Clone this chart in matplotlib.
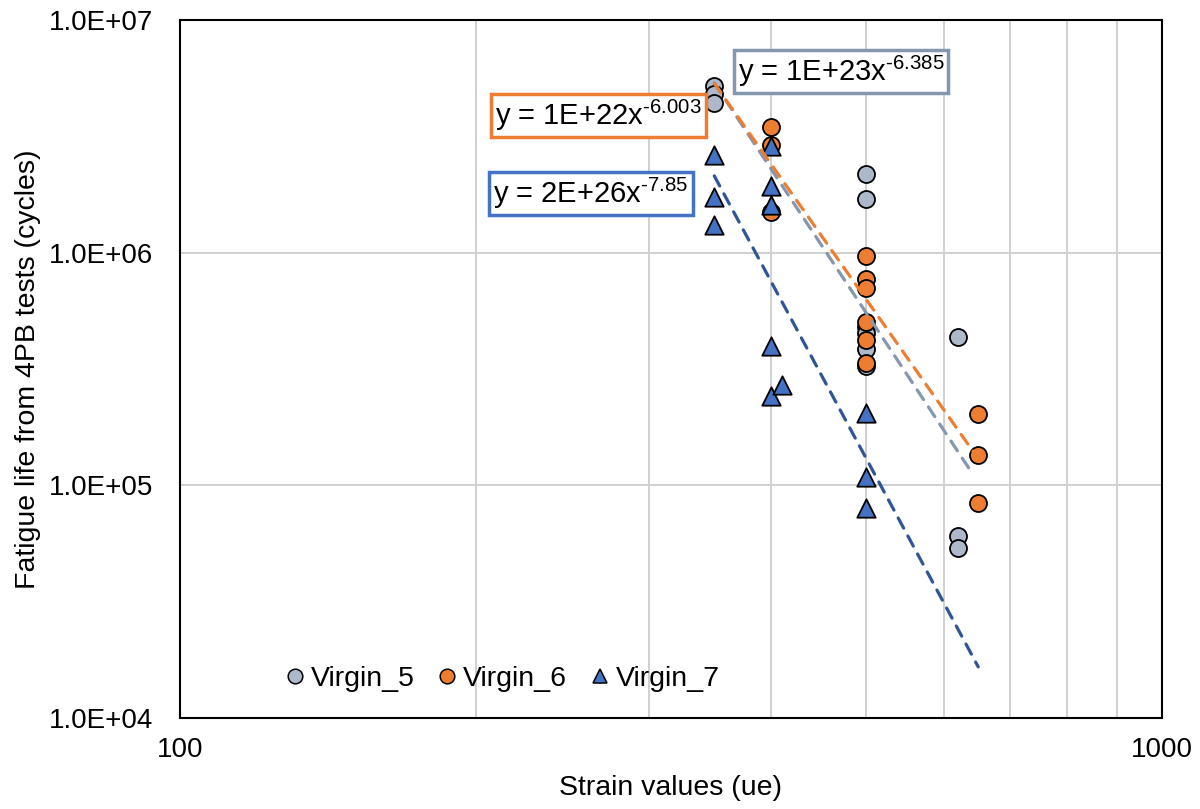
import numpy as np
import matplotlib
matplotlib.use("Agg")
import matplotlib.pyplot as plt
from matplotlib.lines import Line2D

plt.rcParams['font.family'] = ['Liberation Sans', 'DejaVu Sans']
plt.rcParams['mathtext.fontset'] = 'custom'
plt.rcParams['mathtext.rm'] = 'Liberation Sans'
plt.rcParams['mathtext.it'] = 'Liberation Sans'
plt.rcParams['mathtext.default'] = 'rm'

# ---- data (strain in ue, fatigue life in cycles) ----
v5_x = [350, 350, 350, 500, 500, 500, 500, 500, 500, 620, 620, 620]
v5_y = [5.2e6, 4.8e6, 4.4e6, 2.18e6, 1.70e6, 4.8e5, 4.5e5, 3.85e5, 3.25e5, 4.35e5, 6.05e4, 5.4e4]

v6_x = [400, 400, 400, 500, 500, 500, 500, 500, 500, 650, 650, 650]
v6_y = [3.47e6, 2.9e6, 1.5e6, 9.7e5, 7.7e5, 7.05e5, 5.05e5, 4.2e5, 3.36e5, 2.03e5, 1.35e5, 8.4e4]

v7_x = [350, 350, 350, 400, 400, 400, 400, 400, 410, 500, 500, 500]
v7_y = [2.63e6, 1.74e6, 1.32e6, 2.87e6, 1.94e6, 1.60e6, 3.97e5, 2.42e5, 2.70e5, 2.05e5, 1.09e5, 8.0e4]

# power-law trendlines y = a * x^b
trend_a = {'Virgin_5': 9.4e22, 'Virgin_6': 1.0e22, 'Virgin_7': 2.0e26}
trend_b = {'Virgin_5': -6.385, 'Virgin_6': -6.003, 'Virgin_7': -7.85}
trend_range = {'Virgin_5': (350, 640), 'Virgin_6': (350, 650), 'Virgin_7': (350, 650)}
eq_labels = {'Virgin_5': 'y = 1E+23x$^{\u2010 6.385}$',
             'Virgin_6': 'y = 1E+22x$^{\u2010 6.003}$',
             'Virgin_7': 'y = 2E+26x$^{\u2010 7.85}$'}

x_ticks = [100, 1000]
y_ticks = [1e4, 1e5, 1e6, 1e7]
y_tick_labels = ['1.0E+04', '1.0E+05', '1.0E+06', '1.0E+07']

# ---- styling ----
c5_fill, c5_line = '#ADB9CA', '#8497B0'
c6_fill, c6_line = '#ED7D31', '#ED7D31'
c7_fill, c7_line = '#4472C4', '#2F5597'
FS = 20.5

fig = plt.figure(figsize=(12, 8.09), dpi=100)
ax = fig.add_axes([0.15, 0.1125, 0.8183, 0.8628])
ax.set_xscale('log')
ax.set_yscale('log')
ax.set_xlim(100, 1000)
ax.set_ylim(1e4, 1e7)

ax.grid(True, which='major', axis='both', color='#D0D0D0', lw=1.4)
ax.grid(True, which='minor', axis='x', color='#D0D0D0', lw=1.4)
ax.set_axisbelow(True)

ax.scatter(v5_x, v5_y, s=150, marker='o', facecolor=c5_fill, edgecolor='black', lw=1.3, zorder=3)
ax.scatter(v6_x, v6_y, s=150, marker='o', facecolor=c6_fill, edgecolor='black', lw=1.3, zorder=3)
ax.scatter(v7_x, v7_y, s=175, marker='^', facecolor=c7_fill, edgecolor='black', lw=1.3, zorder=3)

for name, col in [('Virgin_5', c5_line), ('Virgin_6', c6_line), ('Virgin_7', c7_line)]:
    x0, x1 = trend_range[name]
    xx = np.geomspace(x0, x1, 50)
    yy = trend_a[name] * xx ** trend_b[name]
    ax.plot(xx, yy, color=col, lw=2.3, ls=(0, (3.6, 2.8)), dash_capstyle='round', zorder=4)

# equation boxes
box_kw = dict(fontsize=21, va='center', ha='left', zorder=6)
ax.text(0.568, 0.926, eq_labels['Virgin_5'], transform=ax.transAxes,
        bbox=dict(boxstyle='square,pad=0.14', facecolor='white', edgecolor=c5_line, lw=2.5), **box_kw)
ax.text(0.321, 0.863, eq_labels['Virgin_6'], transform=ax.transAxes,
        bbox=dict(boxstyle='square,pad=0.14', facecolor='white', edgecolor=c6_line, lw=2.5), **box_kw)
ax.text(0.319, 0.751, eq_labels['Virgin_7'], transform=ax.transAxes,
        bbox=dict(boxstyle='square,pad=0.14', facecolor='white', edgecolor=c7_fill, lw=2.5), **box_kw)

ax.set_xticks(x_ticks)
ax.set_xticklabels([str(v) for v in x_ticks])
ax.set_yticks(y_ticks)
ax.set_yticklabels(y_tick_labels)
ax.xaxis.set_minor_formatter(matplotlib.ticker.NullFormatter())
ax.yaxis.set_minor_locator(matplotlib.ticker.NullLocator())
ax.tick_params(axis='both', which='both', length=0, labelsize=FS - 0.5)
ax.tick_params(axis='y', pad=19)
ax.tick_params(axis='x', pad=14)

for sp in ax.spines.values():
    sp.set_color('black')
    sp.set_linewidth(1.5)

ax.set_xlabel('Strain values (ue)', fontsize=FS, labelpad=8)
ax.set_ylabel('Fatigue life from 4PB tests (cycles)', fontsize=FS, labelpad=6)

handles = [
    Line2D([], [], ls='', marker='o', markersize=10.5, markerfacecolor=c5_fill, markeredgecolor='black', markeredgewidth=1.1),
    Line2D([], [], ls='', marker='o', markersize=10.5, markerfacecolor=c6_fill, markeredgecolor='black', markeredgewidth=1.1),
    Line2D([], [], ls='', marker='^', markersize=10.5, markerfacecolor=c7_fill, markeredgecolor='black', markeredgewidth=1.1),
]
ax.legend(handles, ['Virgin_5', 'Virgin_6', 'Virgin_7'], loc='lower left',
          bbox_to_anchor=(0.075, 0.0), ncol=3, frameon=False, fontsize=FS,
          handletextpad=0.0, columnspacing=0.6, handlelength=1.1)

fig.savefig('out.png', dpi=100)
